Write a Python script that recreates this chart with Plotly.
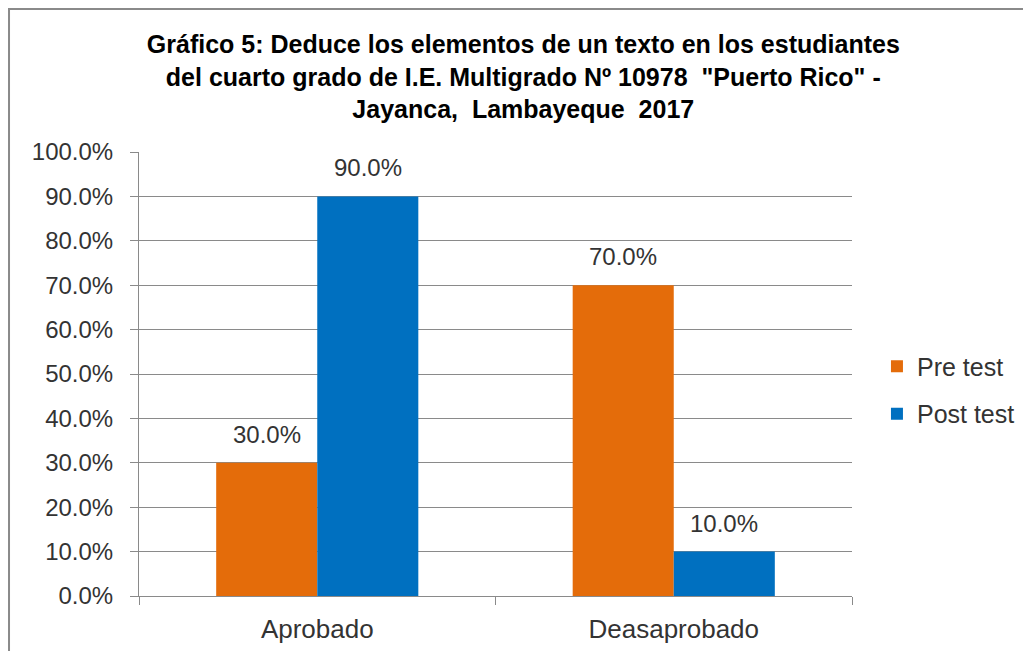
import plotly.graph_objects as go

categories = ["Aprobado", "Deasaprobado"]
pre_test = [0.30, 0.70]
post_test = [0.90, 0.10]
series_names = ["Pre test", "Post test"]
title_text = ("<b>Gráfico 5: Deduce los elementos de un texto en los estudiantes<br>"
              "del cuarto grado de I.E. Multigrado Nº 10978  \"Puerto Rico\" -<br>"
              "Jayanca,  Lambayeque  2017</b>")

FONT = "Liberation Sans, Arial, sans-serif"
GRID = "#8a8a8a"
TXT = "#333333"
COLORS = ["#E46C0A", "#0070C0"]
HALF_BAR_PX = 50.5

fig = go.Figure()
for i, (name, vals) in enumerate(zip(series_names, [pre_test, post_test])):
    fig.add_trace(go.Bar(
        x=categories, y=vals, name=name, legendgroup=name,
        marker=dict(color=COLORS[i], line=dict(width=0)),
    ))
    for cat, v in zip(categories, vals):
        fig.add_annotation(
            x=cat, y=v, xref="x", yref="y", text=f"{v*100:.1f}%", showarrow=False,
            xanchor="center", yanchor="bottom", yshift=13,
            xshift=(-HALF_BAR_PX if i == 0 else HALF_BAR_PX),
            font=dict(family=FONT, size=24, color=TXT),
        )

fig.update_layout(
    width=1023, height=643,
    margin=dict(l=131, r=179, t=144, b=55, autoexpand=False),
    paper_bgcolor="white", plot_bgcolor="white",
    barmode="group", bargap=0.433, bargroupgap=0,
    title=dict(text=title_text, x=0.539, xanchor="center", xref="paper",
               y=0.93, yanchor="top", yref="container",
               font=dict(family=FONT, size=25, color="black")),
    font=dict(family=FONT, size=24, color=TXT),
    legend=dict(x=1.035, xanchor="left", y=0.464, yanchor="middle",
                font=dict(family=FONT, size=25, color=TXT), tracegroupgap=12,
                itemwidth=30, bgcolor="rgba(0,0,0,0)"),
)
fig.update_yaxes(range=[0, 1], dtick=0.1, tickformat=".1%", showgrid=True,
                 gridcolor=GRID, gridwidth=1, showline=True, linecolor=GRID, linewidth=1,
                 ticks="outside", ticklen=8, tickcolor=GRID, zeroline=False,
                 ticklabelstandoff=12, automargin=False,
                 tickfont=dict(family=FONT, size=24, color=TXT))
fig.update_xaxes(showline=True, linecolor=GRID, linewidth=1, ticks="outside",
                 tickson="boundaries", ticklen=8, tickcolor=GRID, showgrid=False,
                 ticklabelstandoff=10, automargin=False,
                 tickfont=dict(family=FONT, size=26, color=TXT))

fig.add_shape(type="rect", xref="paper", yref="paper",
              x0=-0.1823, x1=1.6, y0=-0.4, y1=1.322,
              line=dict(color="#8a8a8a", width=2), fillcolor="rgba(0,0,0,0)", layer="below")

fig.write_html("out.html")
